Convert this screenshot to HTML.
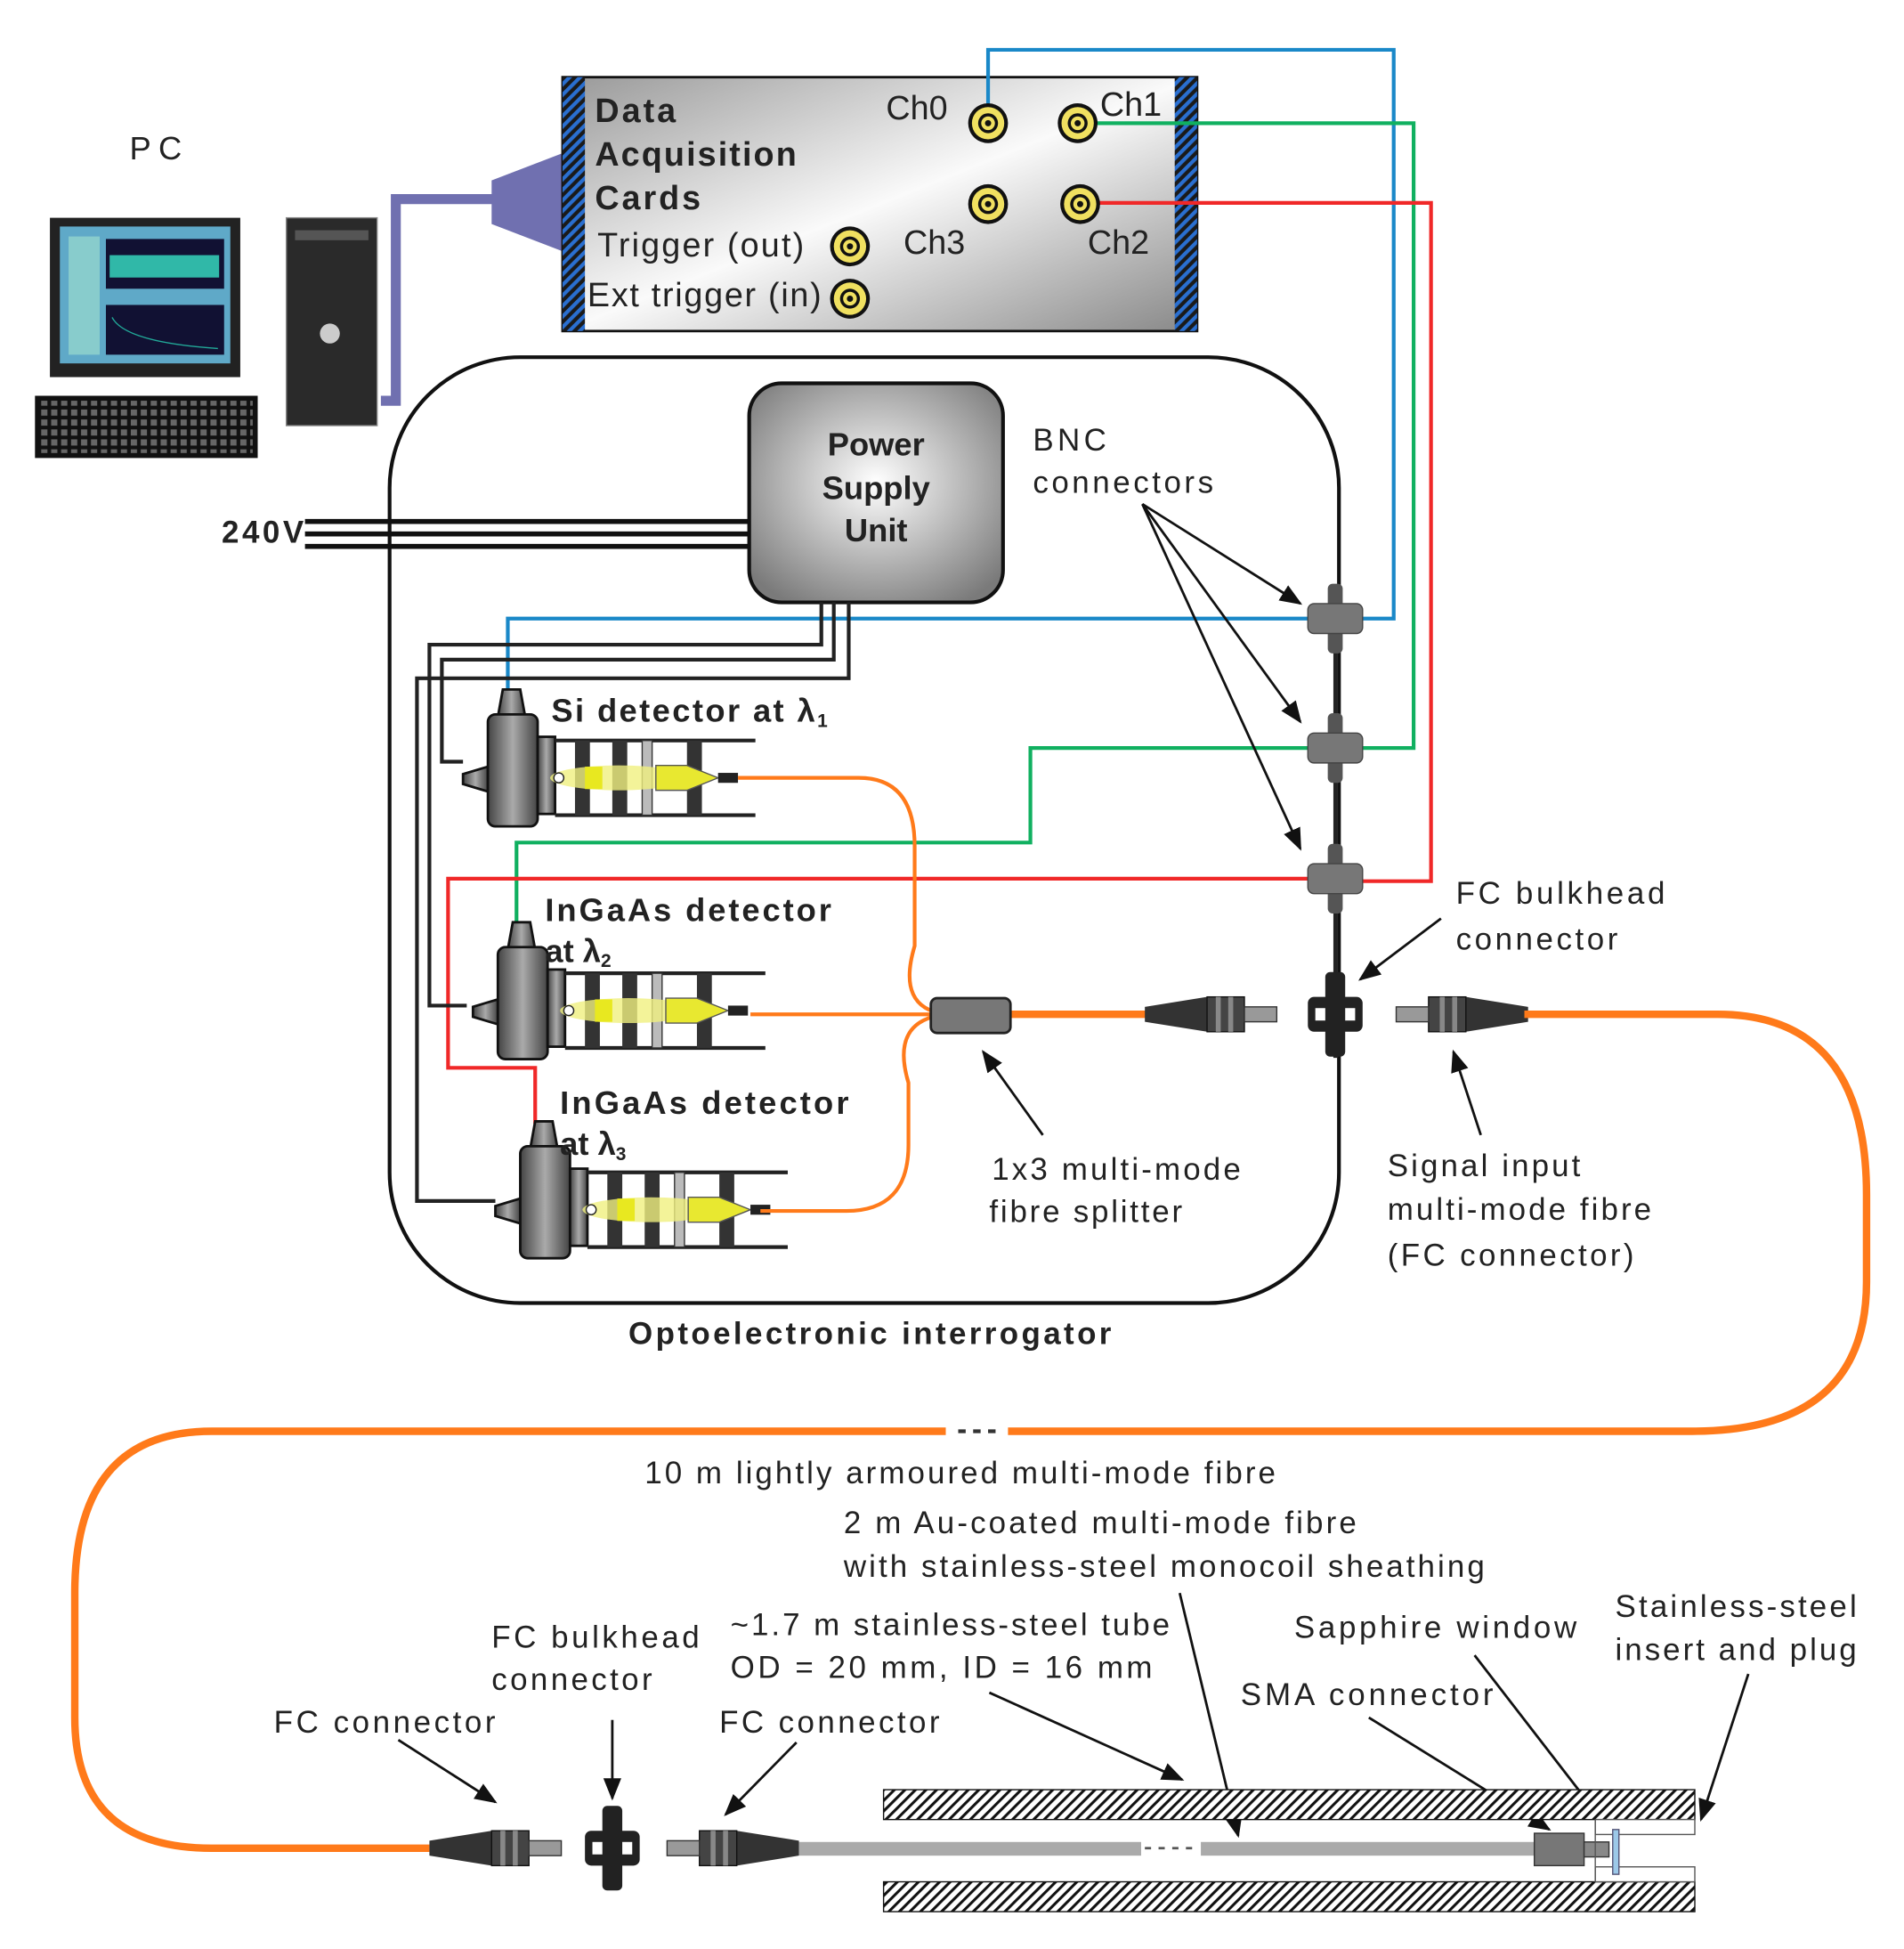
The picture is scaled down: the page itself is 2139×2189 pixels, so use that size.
<!DOCTYPE html>
<html><head><meta charset="utf-8"><style>
html,body{margin:0;padding:0;background:#fff}
svg{display:block}
text{font-family:"Liberation Sans",sans-serif;fill:#222}
.b{font-weight:bold}
</style></head><body>
<svg width="2139" height="2189" viewBox="0 0 1530 1566" xmlns="http://www.w3.org/2000/svg">
<defs>
<pattern id="hb" width="6" height="6" patternUnits="userSpaceOnUse" patternTransform="rotate(45)">
<rect width="6" height="6" fill="#1a1a1a"/><rect width="3" height="6" fill="#2a6fd0"/></pattern>
<pattern id="hk" width="6" height="6" patternUnits="userSpaceOnUse" patternTransform="rotate(45)">
<rect width="6" height="6" fill="#fff"/><rect width="2.2" height="6" fill="#111"/></pattern>
<pattern id="keys" width="8" height="8" patternUnits="userSpaceOnUse">
<rect width="8" height="8" fill="#111"/><rect x="1" y="1" width="5" height="5" fill="#666"/></pattern>
<linearGradient id="gd" x1="0" y1="0" x2="1" y2="1"><stop offset="0" stop-color="#999"/><stop offset=".5" stop-color="#fafafa"/><stop offset="1" stop-color="#888"/></linearGradient>
<radialGradient id="gp" cx=".5" cy=".45" r=".65"><stop offset="0" stop-color="#fff"/><stop offset="1" stop-color="#7a7a7a"/></radialGradient>
<linearGradient id="gb" x1="0" x2="1"><stop offset="0" stop-color="#444"/><stop offset=".5" stop-color="#aaa"/><stop offset="1" stop-color="#444"/></linearGradient>
<marker id="ar" viewBox="0 0 10 10" refX="9" refY="5" markerWidth="9" markerHeight="9" orient="auto"><path d="M0,1 L10,5 L0,9z" fill="#111"/></marker>
<g id="bnc"><circle r="16" fill="#111"/><circle r="13" fill="#f0e060"/><circle r="8" fill="#111"/><circle r="5.5" fill="#f0e060"/><circle r="2.5" fill="#111"/></g>
<g id="det">
<path d="M8,-2 L12,-24 L26,-24 L30,-2z" fill="url(#gb)" stroke="#111" stroke-width="2"/>
<path d="M0,38 L-20,44 L-20,52 L0,58z" fill="url(#gb)" stroke="#111" stroke-width="2"/>
<rect x="0" y="-4" width="40" height="90" rx="6" fill="url(#gb)" stroke="#111" stroke-width="2"/>
<rect x="40" y="14" width="14" height="62" fill="url(#gb)" stroke="#111" stroke-width="2"/>
<line x1="54" y1="17" x2="215" y2="17" stroke="#222" stroke-width="3"/>
<line x1="54" y1="77" x2="215" y2="77" stroke="#222" stroke-width="3"/>
<rect x="70" y="17" width="12" height="60" fill="#333"/>
<rect x="100" y="17" width="12" height="60" fill="#333"/>
<rect x="124" y="17" width="8" height="60" fill="#bbb" stroke="#333"/>
<rect x="160" y="17" width="12" height="60" fill="#333"/>
<ellipse cx="105" cy="47" rx="55" ry="10" fill="#f0f080" opacity=".8"/>
<rect x="78" y="38" width="14" height="18" fill="#e8e820"/>
<path d="M135,37 L160,37 L185,47 L160,57 L135,57z" fill="#e8e830" stroke="#555"/>
<rect x="185" y="43" width="16" height="8" fill="#222"/>
<circle cx="57" cy="47" r="4" fill="#fff" stroke="#222"/>
</g>
<g id="fc">
<path d="M0,-6 L50,-14 L50,14 L0,6z" fill="#333"/>
<rect x="50" y="-14" width="30" height="28" fill="#444" stroke="#111"/>
<rect x="57" y="-14" width="4" height="28" fill="#888"/><rect x="67" y="-14" width="4" height="28" fill="#888"/>
<rect x="80" y="-6" width="26" height="12" fill="#999" stroke="#333"/>
</g>
<g id="blk"><rect x="-8" y="-34" width="16" height="68" rx="4" fill="#222"/><rect x="-22" y="-14" width="44" height="28" rx="5" fill="#222"/><rect x="-16" y="-5" width="8" height="10" fill="#fff"/><rect x="8" y="-5" width="8" height="10" fill="#fff"/></g>
<g id="bn"><rect x="-6" y="-28" width="12" height="56" rx="4" fill="#555"/><rect x="-22" y="-12" width="44" height="24" rx="5" fill="#777" stroke="#444"/></g>
</defs>

<!-- PC -->
<text x="104" y="128" font-size="26" textLength="42">PC</text>
<rect x="40" y="175" width="153" height="128" fill="#222"/>
<rect x="48" y="182" width="137" height="110" fill="#5fa9c8"/>
<rect x="85" y="192" width="95" height="40" fill="#113"/><rect x="88" y="205" width="88" height="18" fill="#30b8a8"/>
<rect x="85" y="245" width="95" height="40" fill="#113"/><path d="M90,255 Q100,275 175,280" stroke="#2a9" fill="none"/>
<rect x="55" y="190" width="25" height="95" fill="#8cc"/>
<rect x="28" y="318" width="179" height="50" fill="#111"/>
<rect x="32" y="322" width="171" height="42" fill="url(#keys)"/>
<rect x="230" y="175" width="73" height="167" fill="#2a2a2a" stroke="#888"/>
<circle cx="265" cy="268" r="8" fill="#ccc"/><rect x="237" y="185" width="59" height="8" fill="#555"/>
<!-- purple cable -->
<path d="M306,322 L318,322 L318,160 L400,160" stroke="#7070b0" stroke-width="8" fill="none"/>
<path d="M395,145 L460,120 L460,205 L395,180z" fill="#7070b0"/>
<!-- DAQ -->
<rect x="452" y="62" width="510" height="204" fill="url(#gd)" stroke="#111" stroke-width="2"/>
<rect x="452" y="62" width="18" height="204" fill="url(#hb)"/>
<rect x="944" y="62" width="18" height="204" fill="url(#hb)"/>
<text x="478" y="98" font-size="27" class="b" textLength="65">Data</text>
<text x="478" y="133" font-size="27" class="b" textLength="162">Acquisition</text>
<text x="478" y="168" font-size="27" class="b" textLength="85">Cards</text>
<text x="480" y="206" font-size="27" textLength="166">Trigger (out)</text>
<text x="472" y="246" font-size="27" textLength="188">Ext trigger (in)</text>
<text x="712" y="96" font-size="27">Ch0</text>
<text x="884" y="93" font-size="27">Ch1</text>
<text x="726" y="204" font-size="27">Ch3</text>
<text x="874" y="204" font-size="27">Ch2</text>
<!-- signal lines -->
<g fill="none" stroke-width="3">
<path d="M794,85 L794,40 L1120,40 L1120,497 L1090,497" stroke="#1a88c8"/>
<path d="M1060,497 L408,497 L408,555" stroke="#1a88c8"/>
<path d="M880,99 L1136,99 L1136,601 L1090,601" stroke="#10b060"/>
<path d="M1060,601 L828,601 L828,677 L415,677 L415,745" stroke="#10b060"/>
<path d="M882,163 L1150,163 L1150,708 L1090,708" stroke="#f02828"/>
<path d="M1060,706 L360,706 L360,858 L430,858 L430,903" stroke="#f02828"/>
</g>
<use href="#bnc" x="794" y="99"/><use href="#bnc" x="866" y="99"/>
<use href="#bnc" x="794" y="164"/><use href="#bnc" x="868" y="164"/>
<use href="#bnc" x="683" y="198"/><use href="#bnc" x="683" y="240"/>
<!-- interrogator -->
<rect x="313" y="287" width="763" height="760" rx="105" fill="none" stroke="#111" stroke-width="3"/>
<!-- 240V -->
<text x="178" y="436" font-size="25" class="b" textLength="66">240V</text>
<g stroke="#111" stroke-width="4"><line x1="245" y1="419" x2="605" y2="419"/><line x1="245" y1="429" x2="605" y2="429"/><line x1="245" y1="439" x2="605" y2="439"/></g>
<!-- PSU -->
<rect x="602" y="308" width="204" height="176" rx="26" fill="url(#gp)" stroke="#111" stroke-width="3"/>
<text x="704" y="366" font-size="26" class="b" text-anchor="middle">Power</text>
<text x="704" y="401" font-size="26" class="b" text-anchor="middle">Supply</text>
<text x="704" y="435" font-size="26" class="b" text-anchor="middle">Unit</text>
<!-- power wires -->
<g fill="none" stroke="#222" stroke-width="3">
<path d="M660,484 L660,518 L345,518 L345,808 L375,808"/>
<path d="M670,484 L670,530 L355,530 L355,612 L372,612"/>
<path d="M682,484 L682,545 L335,545 L335,965 L398,965"/>
</g>
<!-- vertical bus -->
<line x1="1073" y1="470" x2="1073" y2="850" stroke="#222" stroke-width="3"/>
<use href="#bn" x="1073" y="497"/><use href="#bn" x="1073" y="601"/><use href="#bn" x="1073" y="706"/>
<!-- detectors -->
<use href="#det" x="392" y="578"/>
<use href="#det" x="400" y="765"/>
<use href="#det" x="418" y="925"/>
<text x="443" y="580" font-size="26" class="b"><tspan textLength="212">Si detector at λ</tspan><tspan font-size="15" dy="4">1</tspan></text>
<text x="438" y="740" font-size="26" class="b" textLength="230">InGaAs detector</text>
<text x="438" y="773" font-size="26" class="b">at λ<tspan font-size="15" dy="4">2</tspan></text>
<text x="450" y="895" font-size="26" class="b" textLength="232">InGaAs detector</text>
<text x="450" y="928" font-size="26" class="b">at λ<tspan font-size="15" dy="4">3</tspan></text>
<!-- fibres in box -->
<g fill="none" stroke="#ff7a1a" stroke-width="3">
<path d="M593,625 L690,625 Q735,625 735,680 L735,760 Q720,810 760,815"/>
<path d="M603,815 L760,815"/>
<path d="M611,973 L680,973 Q730,973 730,920 L730,870 Q715,820 760,815"/>
</g>
<line x1="810" y1="815" x2="925" y2="815" stroke="#ff7a1a" stroke-width="6"/>
<rect x="748" y="802" width="64" height="28" rx="5" fill="#777" stroke="#222" stroke-width="2"/>
<use href="#fc" transform="translate(920,815)"/>
<use href="#fc" transform="translate(1228,815) scale(-1,1)"/>
<use href="#blk" x="1073" y="815"/>
<!-- big orange loop -->
<path d="M1225,815 L1380,815 Q1500,815 1500,960 L1500,1030 Q1500,1150 1360,1150 L810,1150" fill="none" stroke="#ff7a1a" stroke-width="6"/>
<path d="M760,1150 L170,1150 Q60,1150 60,1280 L60,1380 Q60,1485 170,1485 L345,1485" fill="none" stroke="#ff7a1a" stroke-width="6"/>
<line x1="770" y1="1150" x2="805" y2="1150" stroke="#333" stroke-width="3" stroke-dasharray="6,6"/>
<!-- labels -->
<g font-size="25">
<text x="830" y="362" textLength="59">BNC</text><text x="830" y="396" textLength="145">connectors</text>
<text x="1170" y="726" textLength="168">FC bulkhead</text><text x="1170" y="763" textLength="130">connector</text>
<text x="797" y="948" textLength="200">1x3 multi-mode</text><text x="795" y="982" textLength="155">fibre splitter</text>
<text x="1115" y="945" textLength="155">Signal input</text><text x="1115" y="980" textLength="212">multi-mode fibre</text><text x="1115" y="1017" textLength="198">(FC connector)</text>
<text x="518" y="1192" textLength="507">10 m lightly armoured multi-mode fibre</text>
<text x="678" y="1232" textLength="412">2 m Au-coated multi-mode fibre</text>
<text x="678" y="1267" textLength="515">with stainless-steel monocoil sheathing</text>
<text x="395" y="1324" textLength="167">FC bulkhead</text><text x="395" y="1358" textLength="129">connector</text>
<text x="220" y="1392" textLength="178">FC connector</text>
<text x="587" y="1314" textLength="353">~1.7 m stainless-steel tube</text>
<text x="587" y="1348" textLength="339">OD = 20  mm, ID = 16 mm</text>
<text x="578" y="1392" textLength="177">FC connector</text>
<text x="1040" y="1316" textLength="227">Sapphire window</text>
<text x="997" y="1370" textLength="203">SMA connector</text>
<text x="1298" y="1299" textLength="194">Stainless-steel</text><text x="1298" y="1334" textLength="194">insert and plug</text>
</g>
<text x="505" y="1080" font-size="25" class="b" fill="#222" textLength="388">Optoelectronic interrogator</text>
<!-- arrows -->
<g stroke="#111" stroke-width="2" fill="none" marker-end="url(#ar)">
<line x1="918" y1="405" x2="1045" y2="485"/>
<line x1="918" y1="405" x2="1045" y2="580"/>
<line x1="918" y1="405" x2="1045" y2="682"/>
<line x1="1158" y1="738" x2="1093" y2="787"/>
<line x1="838" y1="912" x2="790" y2="845"/>
<line x1="1190" y1="912" x2="1168" y2="845"/>
<line x1="320" y1="1398" x2="398" y2="1448"/>
<line x1="492" y1="1382" x2="492" y2="1445"/>
<line x1="640" y1="1400" x2="583" y2="1458"/>
<line x1="795" y1="1360" x2="950" y2="1430"/>
<line x1="948" y1="1280" x2="995" y2="1475"/>
<line x1="1100" y1="1380" x2="1245" y2="1470"/>
<line x1="1405" y1="1345" x2="1367" y2="1462"/>
</g>
<line x1="1185" y1="1330" x2="1270" y2="1440" stroke="#111" stroke-width="2"/>
<!-- bottom connectors -->
<use href="#fc" transform="translate(345,1485)"/>
<use href="#blk" x="492" y="1485"/>
<use href="#fc" transform="translate(642,1485) scale(-1,1)"/>
<!-- tube -->
<rect x="710" y="1438" width="652" height="24" fill="url(#hk)" stroke="#111"/>
<rect x="710" y="1512" width="652" height="24" fill="url(#hk)" stroke="#111"/>
<rect x="642" y="1480" width="275" height="11" fill="#aaa"/>
<rect x="965" y="1480" width="270" height="11" fill="#aaa"/>
<line x1="920" y1="1485" x2="962" y2="1485" stroke="#555" stroke-width="2" stroke-dasharray="5,6"/>
<rect x="1233" y="1473" width="40" height="26" fill="#777" stroke="#333"/>
<rect x="1273" y="1480" width="20" height="12" fill="#888" stroke="#333"/>
<rect x="1282" y="1462" width="80" height="12" fill="#fff" stroke="#555"/>
<rect x="1282" y="1500" width="80" height="12" fill="#fff" stroke="#555"/>
<line x1="1282" y1="1462" x2="1282" y2="1512" stroke="#555"/>
<rect x="1296" y="1470" width="5" height="36" fill="#9cc8e8" stroke="#557"/>
</svg>
</body></html>
